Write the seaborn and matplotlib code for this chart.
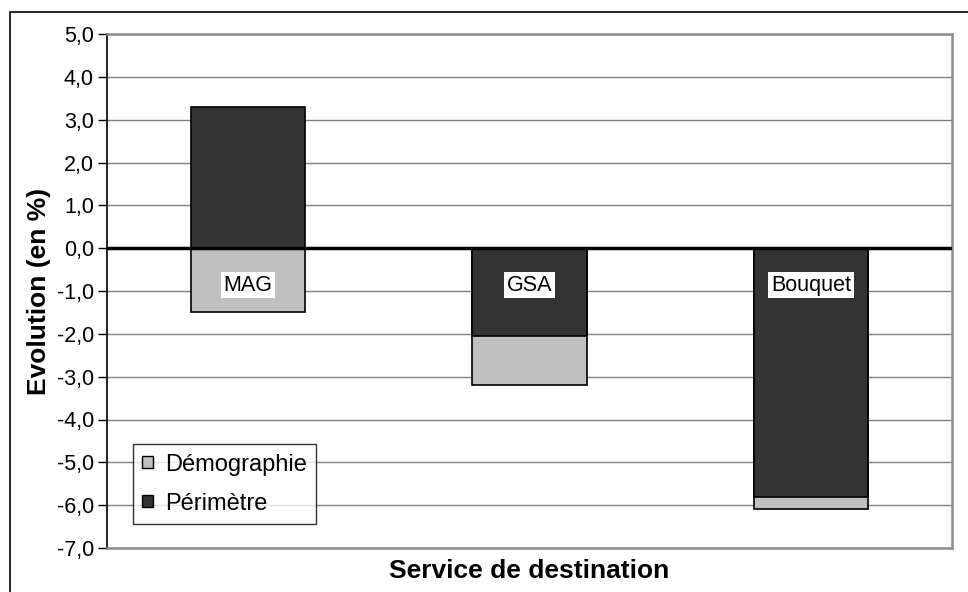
import numpy as np
import pandas as pd
import matplotlib
matplotlib.use('Agg')
import matplotlib.pyplot as plt
import seaborn as sns
from matplotlib.patches import Patch, Rectangle
from matplotlib.ticker import FuncFormatter

# Data (evolution in %)
services = ['MAG', 'GSA', 'Bouquet']
perimetre = [3.3, -2.05, -5.8]
demographie = [-1.5, -1.15, -0.3]

COL_DEMO = '#C0C0C0'
COL_PERI = '#333333'

sns.set_style('white')
plt.rcParams['font.family'] = ['Liberation Sans', 'DejaVu Sans']
plt.rcParams['text.color'] = 'black'
plt.rcParams['axes.labelcolor'] = 'black'
plt.rcParams['ytick.color'] = 'black'
plt.rcParams['ytick.labelcolor'] = 'black'

peri = np.array(perimetre)
demo = np.array(demographie)
# Excel-style stacking: negative parts stack below zero
demo_end = demo + np.minimum(peri, 0)

df = pd.DataFrame({'service': services, 'peri': peri, 'demo_end': demo_end})

fig = plt.figure(figsize=(9.68, 5.92), dpi=100)
ax = fig.add_axes([107 / 968, 44 / 592, 845 / 968, 514 / 592])

sns.barplot(data=df, x='service', y='demo_end', color=COL_DEMO, width=0.405,
            edgecolor='black', linewidth=1.2, saturation=1, ax=ax, zorder=3)
sns.barplot(data=df, x='service', y='peri', color=COL_PERI, width=0.405,
            edgecolor='black', linewidth=1.2, saturation=1, ax=ax, zorder=3)

ax.set_ylim(-7, 5)
ax.set_xlim(-0.5, 2.5)
ax.set_yticks(np.arange(-7, 5.1, 1))
ax.yaxis.set_major_formatter(FuncFormatter(lambda v, p: f'{v:.1f}'.replace('.', ',')))
ax.tick_params(axis='y', labelsize=15.5, length=6.5, width=1, color='black',
               direction='out', left=True, pad=3)
ax.tick_params(axis='x', bottom=False, labelbottom=False)
ax.yaxis.grid(True, color='#808080', linewidth=1, zorder=0)
ax.set_axisbelow(True)
ax.axhline(0, color='black', linewidth=2.5, zorder=4)

for side in ['top', 'right', 'bottom']:
    ax.spines[side].set_color('#8c8c8c')
    ax.spines[side].set_linewidth(1.8)
ax.spines['left'].set_color('black')
ax.spines['left'].set_linewidth(1.2)

ax.set_xlabel('Service de destination', fontsize=19, fontweight='bold', labelpad=8)
ax.set_ylabel('Evolution (en %)', fontsize=19, fontweight='bold', labelpad=4)

# Category labels inside the bars
for i, name in enumerate(services):
    ax.text(i, -0.86, name, ha='center', va='center', fontsize=15.5, zorder=5,
            bbox=dict(facecolor='white', edgecolor='none', pad=2.0))

handles = [Patch(facecolor=COL_DEMO, edgecolor='black', label='Démographie'),
           Patch(facecolor=COL_PERI, edgecolor='black', label='Périmètre')]
leg = ax.legend(handles=handles, loc='lower left', bbox_to_anchor=(0.0308, 0.0468),
                borderaxespad=0, fontsize=17, frameon=True, fancybox=False,
                handlelength=0.45, handleheight=0.45, handletextpad=0.5,
                labelspacing=0.72, borderpad=0.4)
leg.get_frame().set_edgecolor('black')
leg.get_frame().set_linewidth(1)
leg.set_zorder(6)

# outer chart border (left and top edges visible)
fig.patches.append(Rectangle((10 / 968, -0.01), 1.0, 1 - 12 / 592 + 0.01,
                             transform=fig.transFigure, fill=False,
                             edgecolor='black', linewidth=1.2))

fig.savefig('out.png', dpi=100)
